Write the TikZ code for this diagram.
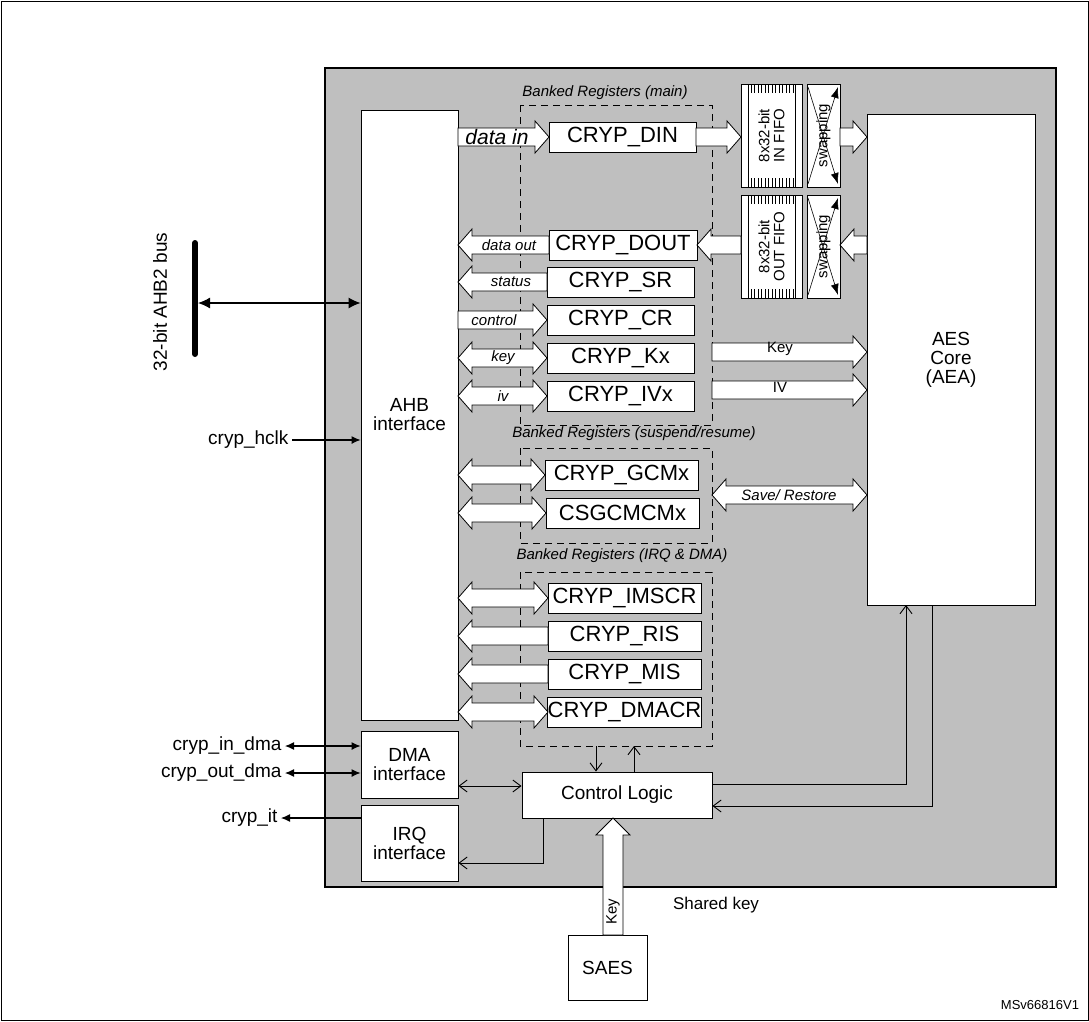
\documentclass[tikz,border=0pt]{standalone}
\usepackage{fontspec}
\setmainfont{Liberation Sans}
\usetikzlibrary{arrows.meta}
\newcommand\fs[1]{\fontsize{#1}{#1}\selectfont}
\tikzset{
 box/.style={draw,fill=white,line width=0.9pt,inner sep=0pt},
 reg/.style={box,font=\fs{22}},
 fat/.style={draw,fill=white,line width=0.8pt},
 lab/.style={font=\fs{15}\itshape},
 thin/.style={line width=0.9pt,-{Straight Barb[length=8pt,width=12pt]}},
 thinb/.style={line width=0.9pt,{Straight Barb[length=8pt,width=12pt]}-{Straight Barb[length=8pt,width=12pt]}},
 dbox/.style={draw,dashed,line width=0.9pt,dash pattern=on 7pt off 5pt},
}
\newcommand\fatR[3]{\path[fat] (#1,#3-9)--(#2-14,#3-9)--(#2-14,#3-16)--(#2,#3)--(#2-14,#3+16)--(#2-14,#3+9)--(#1,#3+9)--cycle;}
\newcommand\fatL[3]{\path[fat] (#2,#3-9)--(#1+14,#3-9)--(#1+14,#3-16)--(#1,#3)--(#1+14,#3+16)--(#1+14,#3+9)--(#2,#3+9)--cycle;}
\newcommand\fatD[3]{\path[fat] (#1+14,#3-9)--(#2-14,#3-9)--(#2-14,#3-16)--(#2,#3)--(#2-14,#3+16)--(#2-14,#3+9)--(#1+14,#3+9)--(#1+14,#3+16)--(#1,#3)--(#1+14,#3-16)--cycle;}
\begin{document}
\begin{tikzpicture}[x=1pt,y=-1pt]
\useasboundingbox (0,0) rectangle (1089,1021);
\draw[line width=0.9pt] (1,1) rectangle (1088,1020);
\draw[fill=black!25,line width=1.2pt] (325,68) rectangle (1056,887);

\draw[dbox] (520,105) rectangle (712,425);
\node[lab] (bm) at (605,93) {Banked Registers (main)};
\draw[dbox] (520,448) rectangle (712,543);
\node[lab] (bs) at (634,434) {Banked Registers (suspend/resume)};
\draw[dbox] (520,572) rectangle (712,746);
\node[lab] (bi) at (622,556) {Banked Registers (IRQ \& DMA)};

\node[box,minimum width=97pt,minimum height=610pt,align=center,font=\fs{19}] (ahb) at (409.5,415) {AHB\\interface};
\node[box,minimum width=97pt,minimum height=67pt,align=center,font=\fs{19}] (dma) at (409.5,764.5) {DMA\\interface};
\node[box,minimum width=97pt,minimum height=76pt,align=center,font=\fs{19}] (irq) at (409.5,843.5) {IRQ\\interface};
\node[box,minimum width=168pt,minimum height=491pt,align=center,font=\fs{19}] (aes) at (951,359.5) {AES\\Core\\(AEA)};
\node[box,minimum width=190pt,minimum height=46pt,font=\fs{19}] (cl) at (617,795) {Control Logic};
\node[box,minimum width=79pt,minimum height=65pt,font=\fs{19}] (saes) at (607.5,967.5) {SAES};

\foreach \n/\t/\y/\xa/\xb in {din/CRYP\_DIN/137/549/696, dout/CRYP\_DOUT/245/549/697, sr/CRYP\_SR/282/547/694, cr/CRYP\_CR/320/547/694, kx/CRYP\_Kx/358/547/694, ivx/CRYP\_IVx/396/547/694, gcm/CRYP\_GCMx/475/545/698, csg/CSGCMCMx/513/546/699, ims/CRYP\_IMSCR/598/548/701, ris/CRYP\_RIS/636/548/701, mis/CRYP\_MIS/674/548/701, dmacr/CRYP\_DMACR/712/548/701}
  {\node[reg,minimum width={\xb-\xa},minimum height=30pt] (\n) at ({(\xa+\xb)/2},\y) {\t};}

\foreach \yt/\tx/\nm in {84/{8x32-bit\\IN FIFO}/fin, 195/{8x32-bit\\OUT FIFO}/fout}{
  \draw[box] (741,\yt) rectangle (802,\yt+103);
  \draw[line width=0.6pt] (748,\yt) -- (748,\yt+103) (795,\yt) -- (795,\yt+103);
  \foreach \k in {751,754.5,...,793} {\draw[line width=0.6pt] (\k,\yt) -- (\k,\yt+9) (\k,\yt+94) -- (\k,\yt+103);}
  \node[inner sep=1pt,rotate=90,align=center,font=\fs{15}] (\nm) at (771.5,\yt+51.5) {\tx};
  \draw[box] (807,\yt) rectangle (840,\yt+103);
  \draw[line width=0.6pt,-{Latex[length=11pt,width=8pt]}] (808,\yt+3) -- (838,\yt+100);
  \draw[line width=0.6pt,-{Latex[length=11pt,width=8pt]}] (808,\yt+100) -- (838,\yt+3);
  \node[rotate=90,font=\fs{15}] at (823.5,\yt+51.5) {swapping};
}

\fatR{458}{549}{137} \node[font=\fs{21}\itshape] at (497,137) {data in};
\fatR{696}{741}{137}
\fatR{840}{867}{137}
\fatL{840}{867}{245}
\fatL{697}{741}{245}
\fatL{458}{549}{245} \node[lab] at (509,245) {data out};
\fatL{458}{547}{282} \node[lab] at (511,282) {status};
\fatR{458}{547}{320} \node[lab] at (494,320) {control};
\fatD{458}{547}{358} \node[lab] at (503,358) {key};
\fatD{458}{547}{396} \node[lab] at (503,396) {iv};
\fatR{712}{867}{352} \node[font=\fs{15}] at (780,349) {Key};
\fatR{712}{867}{390} \node[font=\fs{15}] at (780,387) {IV};
\fatD{458}{545}{475}
\fatD{458}{546}{513}
\fatD{712}{867}{495} \node[lab] at (789,495) {Save/ Restore};
\fatD{458}{548}{598}
\fatL{458}{548}{636}
\fatL{458}{548}{674}
\fatD{458}{548}{712}
\path[fat] (603,935)--(603,835)--(596,835)--(613,818)--(630,835)--(623,835)--(623,935)--cycle;
\node[rotate=90,font=\fs{15}] at (613,912) {Key};
\node[font=\fs{17}] (sk) at (716,905) {Shared key};

\draw[line width=6pt,line cap=round] (195,243) -- (195,354);
\coordinate (bus) at (198,303);
\draw[line width=1.2pt,{Latex[length=12pt,width=11pt]}-{Latex[length=12pt,width=11pt]}] (bus) -- (ahb.west |- bus);
\node[rotate=90,font=\fs{19}] (busl) at (160,302) {32-bit AHB2 bus};

\node[font=\fs{19},anchor=east] (hclk) at (292,440) {cryp\_hclk};
\draw[line width=1.1pt,-{Latex[length=9pt,width=8pt]}] (hclk) -- (ahb.west |- hclk);
\node[font=\fs{19},anchor=east] (ind) at (285,746) {cryp\_in\_dma};
\draw[line width=1.1pt,{Latex[length=9pt,width=8pt]}-{Latex[length=9pt,width=8pt]}] (ind) -- (dma.west |- ind);
\node[font=\fs{19},anchor=east] (outd) at (285,773) {cryp\_out\_dma};
\draw[line width=1.1pt,{Latex[length=9pt,width=8pt]}-{Latex[length=9pt,width=8pt]}] (outd) -- (dma.west |- outd);
\node[font=\fs{19},anchor=east] (it) at (281,818) {cryp\_it};
\draw[line width=1.1pt,{Latex[length=9pt,width=8pt]}-] (it) -- (irq.west |- it);

\draw[thinb] (dma.east |- 0,786) -- (cl.west |- 0,786);
\coordinate (d1) at (596,746);
\coordinate (d2) at (634,746);
\draw[thin] (d1) -- (d1 |- cl.north);
\draw[thin] (d2 |- cl.north) -- (d2);
\draw[thin] (543,818) -- (543,863) -- (irq.east |- 0,863);
\draw[thin] (cl.east |- 0,784) -- (906,784) -- (906 ,605);
\draw[thin] (932,605) -- (932,806) -- (cl.east |- 0,806);

\node[font=\fs{13}] (ms) at (1040,1005) {MSv66816V1};
\end{tikzpicture}
\end{document}
